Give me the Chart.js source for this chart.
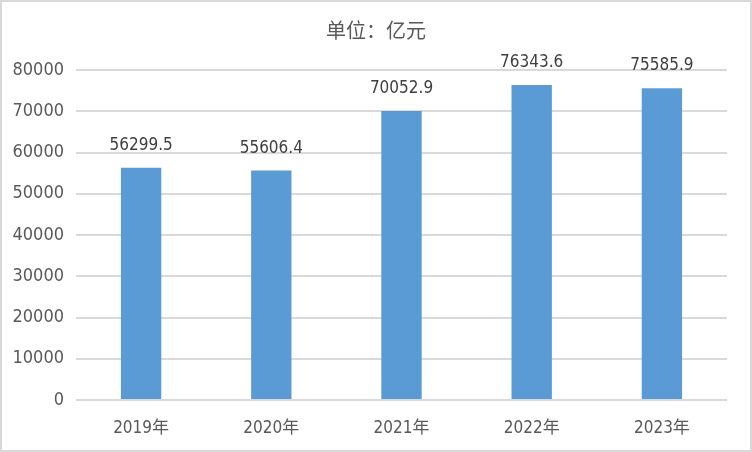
<!DOCTYPE html>
<html>
<head>
<meta charset="utf-8">
<script src="https://cdn.jsdelivr.net/npm/chart.js@4/dist/chart.umd.min.js"></script>
<style>
  html, body { margin: 0; padding: 0; background: #fff; }
  #box { width: 752px; height: 452px; }
</style>
</head>
<body>
<div id="box"><canvas id="chart"></canvas></div>
<script>
const years = ["2019年", "2020年", "2021年", "2022年", "2023年"];
const values = [56299.5, 55606.4, 70052.9, 76343.6, 75585.9];
const yTicks = [0, 10000, 20000, 30000, 40000, 50000, 60000, 70000, 80000];
const titleText = "单位：亿元";

const numFont = "'Liberation Sans Narrow', 'DejaVu Sans Condensed', sans-serif";

// title, value labels above each bar + outer frame
const extras = {
    id: "extras",
    afterDatasetsDraw(chart) {
        const ctx = chart.ctx;
        const meta = chart.getDatasetMeta(0);
        ctx.save();
        ctx.fillStyle = "#404040";
        ctx.font = "17px " + numFont;
        ctx.textAlign = "center";
        ctx.textBaseline = "bottom";
        meta.data.forEach((bar, i) => {
            ctx.fillText(values[i].toFixed(1), bar.x, bar.y - 14);
        });
        ctx.restore();
    },
    afterDraw(chart) {
        const ctx = chart.ctx;
        ctx.save();
        ctx.fillStyle = "#595959";
        ctx.font = "20px 'Noto Sans CJK SC', sans-serif";
        ctx.textAlign = "center";
        ctx.textBaseline = "middle";
        ctx.fillText(titleText, chart.width / 2, 30);
        ctx.strokeStyle = "#d9d9d9";
        ctx.lineWidth = 2;
        ctx.strokeRect(1, 1, chart.width - 2, chart.height - 2);
        ctx.restore();
    },
};

new Chart(document.getElementById("chart"), {
    type: "bar",
    data: {
        labels: years,
        datasets: [
            {
                data: values,
                backgroundColor: "#5b9bd5",
                barPercentage: 0.31,
                categoryPercentage: 1,
            },
        ],
    },
    options: {
        responsive: true,
        maintainAspectRatio: false,
        animation: false,
        layout: { padding: { left: 0, right: 25, top: 70, bottom: 0 } },
        plugins: {
            legend: { display: false },
            tooltip: { enabled: false },
            title: { display: false },
        },
        scales: {
            x: {
                grid: { display: false },
                border: { display: false },
                ticks: {
                    color: "#595959",
                    font: { family: numFont + ", 'Noto Sans CJK SC'", size: 17 },
                    padding: 10,
                },
                afterFit(scale) { scale.height = 52; },
            },
            y: {
                min: 0,
                max: 80000,
                afterBuildTicks(scale) {
                    scale.ticks = yTicks.map((v) => ({ value: v }));
                },
                grid: { color: "#d9d9d9", lineWidth: 2, drawTicks: false },
                border: { display: false },
                ticks: {
                    color: "#595959",
                    font: { family: numFont, size: 18 },
                    padding: 12,
                    callback: (v) => String(v),
                },
                afterFit(scale) { scale.width = 76; },
            },
        },
    },
    plugins: [extras],
});
</script>
</body>
</html>
